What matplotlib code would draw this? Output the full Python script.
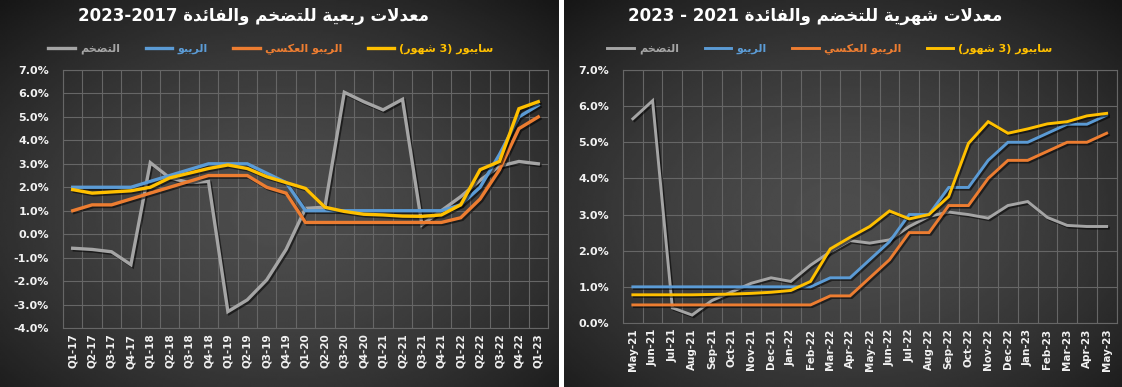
import numpy as np
import matplotlib
matplotlib.use('Agg')
import matplotlib.pyplot as plt
from matplotlib import patheffects as pe
from matplotlib.ticker import FuncFormatter

# ---------------- data ----------------
quarters = ['Q1-17', 'Q2-17', 'Q3-17', 'Q4-17', 'Q1-18', 'Q2-18', 'Q3-18', 'Q4-18',
            'Q1-19', 'Q2-19', 'Q3-19', 'Q4-19', 'Q1-20', 'Q2-20', 'Q3-20', 'Q4-20',
            'Q1-21', 'Q2-21', 'Q3-21', 'Q4-21', 'Q1-22', 'Q2-22', 'Q3-22', 'Q4-22', 'Q1-23']
infl_q = [-0.6, -0.65, -0.75, -1.3, 3.05, 2.4, 2.2, 2.25, -3.3, -2.8, -1.95, -0.65,
          1.1, 1.15, 6.05, 5.65, 5.3, 5.75, 0.4, 1.0, 1.6, 2.3, 2.9, 3.1, 3.0]
repo_q = [2.0, 2.0, 2.0, 2.0, 2.25, 2.5, 2.75, 3.0, 3.0, 3.0, 2.6, 2.2,
          1.0, 1.0, 1.0, 1.0, 1.0, 1.0, 1.0, 1.0, 1.25, 2.0, 3.4, 5.0, 5.5]
rrepo_q = [1.0, 1.25, 1.25, 1.5, 1.75, 2.0, 2.25, 2.5, 2.5, 2.5, 2.0, 1.75,
           0.5, 0.5, 0.5, 0.5, 0.5, 0.5, 0.5, 0.5, 0.7, 1.5, 2.75, 4.5, 5.0]
saibor_q = [1.9, 1.75, 1.8, 1.85, 2.0, 2.4, 2.6, 2.8, 2.95, 2.8, 2.45, 2.2,
            1.95, 1.15, 0.97, 0.85, 0.82, 0.77, 0.76, 0.82, 1.25, 2.75, 3.1, 5.35, 5.65]

months = ['May-21', 'Jun-21', 'Jul-21', 'Aug-21', 'Sep-21', 'Oct-21', 'Nov-21', 'Dec-21',
          'Jan-22', 'Feb-22', 'Mar-22', 'Apr-22', 'May-22', 'Jun-22', 'Jul-22', 'Aug-22',
          'Sep-22', 'Oct-22', 'Nov-22', 'Dec-22', 'Jan-23', 'Feb-23', 'Mar-23', 'Apr-23', 'May-23']
infl_m = [5.65, 6.15, 0.42, 0.22, 0.62, 0.86, 1.1, 1.25, 1.15, 1.6, 1.97, 2.28, 2.21,
          2.3, 2.67, 2.95, 3.07, 3.0, 2.9, 3.25, 3.36, 2.92, 2.7, 2.67, 2.67]
repo_m = [1.0, 1.0, 1.0, 1.0, 1.0, 1.0, 1.0, 1.0, 1.0, 1.0, 1.25, 1.25, 1.75,
          2.25, 3.0, 3.0, 3.75, 3.75, 4.5, 5.0, 5.0, 5.25, 5.5, 5.5, 5.75]
rrepo_m = [0.5, 0.5, 0.5, 0.5, 0.5, 0.5, 0.5, 0.5, 0.5, 0.5, 0.75, 0.75, 1.25,
           1.75, 2.5, 2.5, 3.25, 3.25, 4.0, 4.5, 4.5, 4.75, 5.0, 5.0, 5.25]
saibor_m = [0.78, 0.78, 0.78, 0.78, 0.79, 0.8, 0.82, 0.85, 0.9, 1.15, 2.05, 2.37, 2.67,
            3.1, 2.88, 3.0, 3.5, 4.97, 5.57, 5.25, 5.37, 5.51, 5.57, 5.73, 5.8]

# ---------------- minimal Arabic shaping ----------------
FORMS = {
    'ا': ('\uFE8D', '\uFE8E', None, None),
    'أ': ('\uFE83', '\uFE84', None, None),
    'إ': ('\uFE87', '\uFE88', None, None),
    'آ': ('\uFE81', '\uFE82', None, None),
    'ب': ('\uFE8F', '\uFE90', '\uFE91', '\uFE92'),
    'ة': ('\uFE93', '\uFE94', None, None),
    'ت': ('\uFE95', '\uFE96', '\uFE97', '\uFE98'),
    'ث': ('\uFE99', '\uFE9A', '\uFE9B', '\uFE9C'),
    'ج': ('\uFE9D', '\uFE9E', '\uFE9F', '\uFEA0'),
    'ح': ('\uFEA1', '\uFEA2', '\uFEA3', '\uFEA4'),
    'خ': ('\uFEA5', '\uFEA6', '\uFEA7', '\uFEA8'),
    'د': ('\uFEA9', '\uFEAA', None, None),
    'ذ': ('\uFEAB', '\uFEAC', None, None),
    'ر': ('\uFEAD', '\uFEAE', None, None),
    'ز': ('\uFEAF', '\uFEB0', None, None),
    'س': ('\uFEB1', '\uFEB2', '\uFEB3', '\uFEB4'),
    'ش': ('\uFEB5', '\uFEB6', '\uFEB7', '\uFEB8'),
    'ص': ('\uFEB9', '\uFEBA', '\uFEBB', '\uFEBC'),
    'ض': ('\uFEBD', '\uFEBE', '\uFEBF', '\uFEC0'),
    'ط': ('\uFEC1', '\uFEC2', '\uFEC3', '\uFEC4'),
    'ظ': ('\uFEC5', '\uFEC6', '\uFEC7', '\uFEC8'),
    'ع': ('\uFEC9', '\uFECA', '\uFECB', '\uFECC'),
    'غ': ('\uFECD', '\uFECE', '\uFECF', '\uFED0'),
    'ف': ('\uFED1', '\uFED2', '\uFED3', '\uFED4'),
    'ق': ('\uFED5', '\uFED6', '\uFED7', '\uFED8'),
    'ك': ('\uFED9', '\uFEDA', '\uFEDB', '\uFEDC'),
    'ل': ('\uFEDD', '\uFEDE', '\uFEDF', '\uFEE0'),
    'م': ('\uFEE1', '\uFEE2', '\uFEE3', '\uFEE4'),
    'ن': ('\uFEE5', '\uFEE6', '\uFEE7', '\uFEE8'),
    'ه': ('\uFEE9', '\uFEEA', '\uFEEB', '\uFEEC'),
    'و': ('\uFEED', '\uFEEE', None, None),
    'ى': ('\uFEEF', '\uFEF0', None, None),
    'ي': ('\uFEF1', '\uFEF2', '\uFEF3', '\uFEF4'),
    'ئ': ('\uFE89', '\uFE8A', '\uFE8B', '\uFE8C'),
}
LAMALEF = {'ا': ('\uFEFB', '\uFEFC'), 'أ': ('\uFEF7', '\uFEF8'),
           'إ': ('\uFEF9', '\uFEFA'), 'آ': ('\uFEF5', '\uFEF6')}


def _dual(c):
    return c in FORMS and FORMS[c][2] is not None


def shape(s):
    res = []
    i, n = 0, len(s)
    while i < n:
        c = s[i]
        if c not in FORMS:
            res.append(c)
            i += 1
            continue
        join_prev = i > 0 and _dual(s[i - 1])
        if c == 'ل' and i + 1 < n and s[i + 1] in LAMALEF:
            res.append(LAMALEF[s[i + 1]][1 if join_prev else 0])
            i += 2
            continue
        join_next = _dual(c) and i + 1 < n and s[i + 1] in FORMS
        iso, fin, ini, med = FORMS[c]
        if join_prev and join_next:
            g = med
        elif join_prev:
            g = fin
        elif join_next:
            g = ini
        else:
            g = iso
        res.append(g)
        i += 1
    return ''.join(res)


def ar(s):
    v = shape(s)[::-1]
    return v.translate(str.maketrans({'(': ')', ')': '('}))


# ---------------- figure ----------------
W, H = 1122, 387
fig = plt.figure(figsize=(W / 100, H / 100), dpi=100, facecolor='white')
FONT = ['DejaVu Sans']


def px(x0, y0, x1, y1):
    return [x0 / W, 1 - y1 / H, (x1 - x0) / W, (y1 - y0) / H]


def background(rect):
    bg = fig.add_axes(rect, zorder=-10)
    ny, nx = 200, 300
    yy, xx = np.mgrid[0:1:ny * 1j, 0:1:nx * 1j]
    r = np.sqrt(((xx - 0.5) / 0.62) ** 2 + ((yy - 0.55) / 0.62) ** 2)
    v = 0.30 - 0.16 * np.clip(r, 0, 1.25) ** 1.6
    bg.imshow(v, cmap='gray', vmin=0, vmax=1, aspect='auto', interpolation='bilinear')
    bg.set_axis_off()


background(px(0, 0, 559, H))
background(px(564, 0, W, H))

C_INF, C_REPO, C_RREPO, C_SAIBOR = '#a5a5a5', '#5b9bd5', '#ed7d31', '#ffc000'
GRID = '#666666'
labels = [ar('التضخم'), ar('الريبو'), ar('الريبو العكسي'), ar('سايبور (3 شهور)')]
shadow = [pe.SimpleLineShadow(offset=(1.2, -1.2), shadow_color='black', alpha=0.55),
          pe.Normal()]


def make_panel(rect, cats, series, ylo, yhi, lw):
    ax = fig.add_axes(rect)
    ax.set_facecolor('none')
    x = np.arange(len(cats))
    handles = []
    for vals, col in zip(series, [C_INF, C_REPO, C_RREPO, C_SAIBOR]):
        h, = ax.plot(x, vals, color=col, lw=lw, solid_joinstyle='miter',
                     path_effects=shadow)
        handles.append(h)
    ax.set_xlim(-0.5, len(cats) - 0.5)
    ax.set_ylim(ylo, yhi)
    ax.set_yticks(np.arange(ylo, yhi + 1))
    ax.yaxis.set_major_formatter(FuncFormatter(lambda v, p: f'{v:.1f}%'))
    ax.set_xticks(x)
    ax.set_xticklabels(cats, rotation=90)
    ax.set_xticks(np.arange(-0.5, len(cats)), minor=True)
    ax.grid(which='minor', axis='x', color=GRID, lw=0.8)
    ax.grid(which='major', axis='y', color=GRID, lw=0.8)
    ax.set_axisbelow(True)
    ax.tick_params(which='both', length=0, colors='white')
    ax.tick_params(axis='x', pad=4, labelsize=7.5)
    ax.tick_params(axis='y', pad=10, labelsize=8)
    for lab in ax.get_xticklabels() + ax.get_yticklabels():
        lab.set_fontweight('bold')
        lab.set_color('#f2f2f2')
    for s in ax.spines.values():
        s.set_color(GRID)
        s.set_linewidth(0.8)
    return ax, handles


axL, hL = make_panel(px(63, 70, 548, 328), quarters,
                     [infl_q, repo_q, rrepo_q, saibor_q], -4, 7, 2.4)
axR, hR = make_panel(px(623, 70, 1116.5, 323), months,
                     [infl_m, repo_m, rrepo_m, saibor_m], 0, 7, 2.1)

# titles
fig.text(254 / W, 1 - 16 / H, '2023-2017 ' + ar('معدلات ربعية للتضخم والفائدة'),
         ha='center', va='center', color='white', fontsize=12, fontweight='bold',
         family=FONT)
fig.text(815 / W, 1 - 16 / H, '2023 - 2021 ' + ar('معدلات شهرية للتخضم والفائدة'),
         ha='center', va='center', color='white', fontsize=12, fontweight='bold',
         family=FONT)

# legends
for hs, cx in [(hL, 271), (hR, 830)]:
    leg = fig.legend(hs, labels, loc='center', bbox_to_anchor=(cx / W, 1 - 49 / H),
                     ncol=4, frameon=False, handlelength=2.4, handletextpad=0.45,
                     columnspacing=2.3, labelcolor='linecolor',
                     prop={'family': FONT, 'weight': 'bold', 'size': 8})
    for line in leg.get_lines():
        line.set_path_effects([])

fig.savefig('out.png', dpi=100, facecolor=fig.get_facecolor())
